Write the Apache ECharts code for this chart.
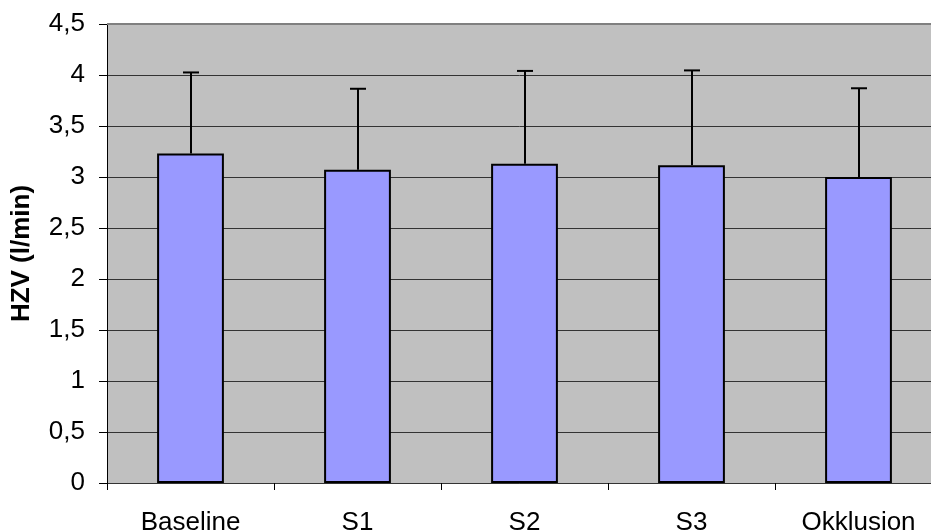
<!DOCTYPE html>
<html><head><meta charset="utf-8">
<script src="https://cdn.jsdelivr.net/npm/echarts@6/dist/echarts.min.js"></script>
<style>html,body{margin:0;padding:0;background:#fff}#c{width:931px;height:532px}</style>
</head><body><div id="c"></div>
<script>
var categories = ['Baseline', 'S1', 'S2', 'S3', 'Okklusion'];
var means = [3.23, 3.07, 3.13, 3.115, 3.0];
var upperErr = [4.025, 3.865, 4.04, 4.045, 3.87];
var yTicks = [0, 0.5, 1, 1.5, 2, 2.5, 3, 3.5, 4, 4.5];

var chart = echarts.init(document.getElementById('c'), null, {renderer: 'canvas'});
var font = '"Liberation Sans", Arial, sans-serif';
chart.setOption({
  animation: false,
  grid: {left: 107, top: 24, bottom: 49, right: -11, show: true, outerBoundsMode: 'none', containLabel: false,
    backgroundColor: '#C0C0C0', borderColor: '#808080', borderWidth: 0},
  xAxis: {
    type: 'category', data: categories,
    axisLine: {lineStyle: {color: '#333', width: 1}},
    axisTick: {show: true, inside: false, length: 7, alignWithLabel: false, lineStyle: {color: '#000'}},
    axisLabel: {fontFamily: font, fontSize: 26, color: '#000', margin: 27}
  },
  yAxis: {
    type: 'value', min: 0, max: 4.5, interval: 0.5,
    name: 'HZV (l/min)', nameLocation: 'middle', nameGap: 72,
    nameTextStyle: {fontFamily: font, fontSize: 26, fontWeight: 'bold', color: '#000'},
    axisLine: {show: true, lineStyle: {color: '#000', width: 1}},
    axisTick: {show: true, length: 8, lineStyle: {color: '#000'}},
    splitLine: {lineStyle: {color: '#333', width: 1}},
    axisLabel: {fontFamily: font, fontSize: 26, color: '#000', margin: 22,
      formatter: function (v) { return String(v).replace('.', ','); }}
  },
  series: [
    {
      type: 'bar', data: means, barWidth: '40%',
      itemStyle: {color: '#9999FF', borderColor: '#000', borderWidth: 2},
      z: 3
    },
    {
      type: 'custom', z: 4,
      data: categories.map(function (c, i) { return [i, means[i], upperErr[i]]; }),
      renderItem: function (params, api) {
        var base = api.coord([api.value(0), api.value(1)]);
        var top = api.coord([api.value(0), api.value(2)]);
        var x = Math.round(base[0]);
        return {
          type: 'group',
          children: [
            {type: 'line', shape: {x1: x, y1: base[1], x2: x, y2: top[1]}, style: {stroke: '#000', lineWidth: 2}},
            {type: 'line', shape: {x1: x - 8, y1: top[1], x2: x + 8, y2: top[1]}, style: {stroke: '#000', lineWidth: 2}}
          ]
        };
      }
    }
  ],
  graphic: [
    {type: 'line', shape: {x1: 107, y1: 24, x2: 931, y2: 24}, style: {stroke: '#808080', lineWidth: 2}, z: 10}
  ]
});
</script></body></html>
